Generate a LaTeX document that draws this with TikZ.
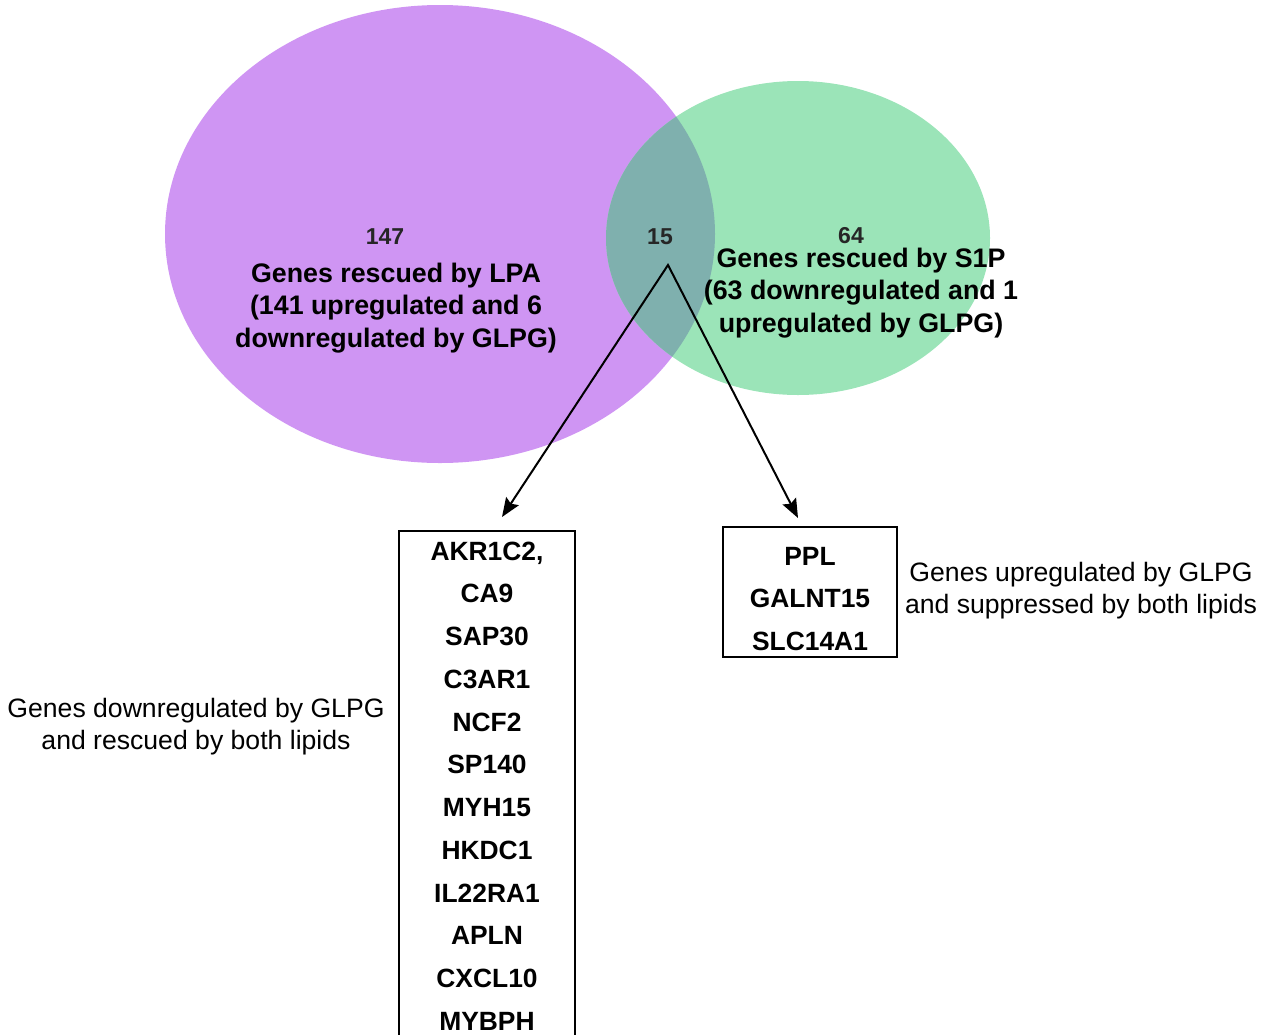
\documentclass[tikz,border=0pt]{standalone}
\usepackage{fontspec}
\setmainfont{Liberation Sans}
\usetikzlibrary{arrows.meta}
\definecolor{lpa}{RGB}{207,149,243}
\definecolor{sip}{RGB}{155,228,184}
\definecolor{both}{RGB}{127,176,174}
\begin{document}
\begin{tikzpicture}[x=1pt,y=-1pt,
 big/.style={font=\bfseries\fontsize{26.8}{32.5}\selectfont, align=center, inner sep=0pt},
 num/.style={font=\bfseries\fontsize{23}{28}\selectfont, text=black!85, inner sep=0pt},
 note/.style={font=\fontsize{26.6}{32}\selectfont, align=center, inner sep=0pt},
 genes/.style={font=\bfseries\fontsize{26.4}{42.75}\selectfont, align=center, inner sep=0pt},
 gbox/.style={draw, line width=2pt, inner sep=0pt},
 conn/.style={line width=2pt, line join=miter, {Stealth[length=19pt,width=15pt,inset=3pt]}-{Stealth[length=19pt,width=15pt,inset=3pt]}}]
\useasboundingbox (0,0) rectangle (1263,1034);
\clip (0,0) rectangle (1263,1034);
% Venn
\fill[lpa] (440,234) ellipse [x radius=275, y radius=229];
\fill[sip] (798,238) ellipse [x radius=192, y radius=157];
\begin{scope}
\clip (440,234) ellipse [x radius=275, y radius=229];
\fill[both] (798,238) ellipse [x radius=192, y radius=157];
\end{scope}
% numbers
\node[num] (n147) at (385,237) {147};
\node[num] (n15) at (660,237) {15};
\node[num] (n64) at (851,236) {64};
% set labels
\node[big] (lpatext) at (396,308) {Genes rescued by LPA\\(141 upregulated and 6\\downregulated by GLPG)};
\node[big] (siptext) at (861,293) {Genes rescued by S1P\\(63 downregulated and 1\\upregulated by GLPG)};
% boxes
\node[gbox, minimum width=176, minimum height=519] (lbox) at (487,790.5) {};
\node[genes] (lgenes) at (487,786) {AKR1C2,\\CA9\\SAP30\\C3AR1\\NCF2\\SP140\\MYH15\\HKDC1\\IL22RA1\\APLN\\CXCL10\\MYBPH};
\node[gbox, minimum width=174, minimum height=130] (rbox) at (810,592) {};
\node[genes] (rgenes) at (810,599) {PPL\\GALNT15\\SLC14A1};
% notes
\node[note] (lnote) at (196,727) {Genes downregulated by GLPG\\and rescued by both lipids};
\node[note] (rnote) at (1081,591) {Genes upregulated by GLPG\\and suppressed by both lipids};
% connectors
\coordinate (apex) at (668,265);
\coordinate (ltip) at (502,517);
\coordinate (rtip) at (798,518);
\draw[conn] (ltip) -- (apex) -- (rtip);
\end{tikzpicture}
\end{document}
